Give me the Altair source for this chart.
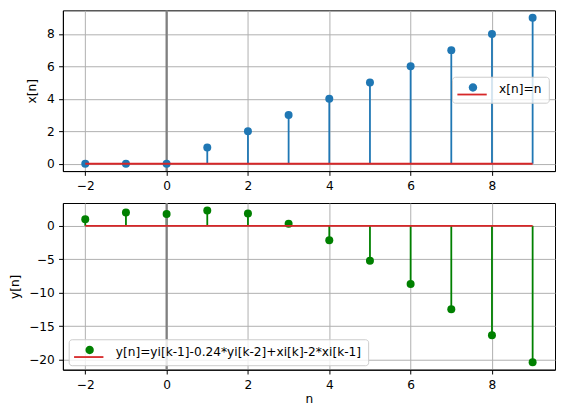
import altair as alt
import pandas as pd

# ---- data ----
n_vals = [-2, -1, 0, 1, 2, 3, 4, 5, 6, 7, 8, 9]
x_vals = [0, 0, 0, 1, 2, 3, 4, 5, 6, 7, 8, 9]
y_vals = [1.0, 2.0, 1.76, 2.28, 1.86, 0.31, -2.14, -5.21, -8.70, -12.45, -16.36, -20.37]
x_ticks = [-2, 0, 2, 4, 6, 8]
top_y_ticks = [0, 2, 4, 6, 8]
bot_y_ticks = [-20, -15, -10, -5, 0]
top_label = "x[n]=n"
bot_label = "y[n]=yi[k-1]-0.24*yi[k-2]+xi[k]-2*xi[k-1]"
base_name = "baseline"

FONT = "DejaVu Sans"
FS = 12.2
C_TOP = "#1f77b4"
C_BOT = "#008000"
C_BASE = "#d62728"

# legend glyph paths (unit box = 12px)
CIRCLE_PATH = "M-0.55,-0.3 A0.7,0.7 0 1,0 0.85,-0.3 A0.7,0.7 0 1,0 -0.55,-0.3 Z"
LINE_PATH = "M-2.45,0.72 L2.45,0.72"

top_df = pd.DataFrame({"n": n_vals, "v": x_vals, "zero": 0, "lab": top_label})
bot_df = pd.DataFrame({"n": n_vals, "v": y_vals, "zero": 0, "lab": bot_label})
top_base = pd.DataFrame({"n0": [min(n_vals)], "n1": [max(n_vals)], "zero": [0], "lab2": [base_name + " x"]})
bot_base = pd.DataFrame({"n0": [min(n_vals)], "n1": [max(n_vals)], "zero": [0], "lab2": [base_name + " y"]})
vline_df = pd.DataFrame({"n": [0]})

x_scale = alt.Scale(domain=[-2.55, 9.55], nice=False, zero=False)
W = 493


def legend_fill(lx, ly):
    return alt.Legend(
        title=None, orient="none", legendX=lx, legendY=ly,
        symbolType=CIRCLE_PATH, symbolSize=144, symbolStrokeWidth=0,
        symbolOffset=7.5, labelOffset=21, labelLimit=500,
        labelFont=FONT, labelFontSize=FS, labelColor="black",
        padding=6.5, fillColor="rgba(255,255,255,0.8)", strokeColor="#cccccc",
        cornerRadius=3,
    )


def legend_stroke(lx, ly):
    return alt.Legend(
        title=None, orient="none", legendX=lx, legendY=ly,
        symbolType=LINE_PATH, symbolSize=144, symbolStrokeWidth=1.8,
        symbolFillColor="transparent",
        symbolOffset=6.6, labelOffset=0, labelExpr="''",
        labelFont=FONT, labelFontSize=FS, labelOpacity=0,
        padding=6.5,
    )


def panel(df, base_df, color, y_dom, y_ticks, y_title, y_tp, show_x_title, lab, lx, ly, h):
    ys = alt.Scale(domain=y_dom, nice=False, zero=False)
    xax = alt.Axis(values=x_ticks, title="n" if show_x_title else None, titlePadding=2)
    yax = alt.Axis(values=y_ticks, title=y_title, titlePadding=y_tp)
    stems = alt.Chart(df).mark_rule(color=color, strokeWidth=1.8).encode(
        x=alt.X("n:Q", scale=x_scale, axis=xax),
        y=alt.Y("zero:Q", scale=ys, axis=yax),
        y2="v:Q",
    )
    vline = alt.Chart(vline_df).mark_rule(color="#808080", strokeWidth=2.2).encode(
        x=alt.X("n:Q", scale=x_scale),
    )
    pts = alt.Chart(df).mark_circle(size=64, opacity=1).encode(
        x=alt.X("n:Q", scale=x_scale),
        y=alt.Y("v:Q", scale=ys),
        fill=alt.Fill("lab:N", scale=alt.Scale(domain=[lab], range=[color]),
                      legend=legend_fill(lx, ly)),
    )
    base = alt.Chart(base_df).mark_rule(strokeWidth=1.8).encode(
        x=alt.X("n0:Q", scale=x_scale),
        x2="n1:Q",
        y=alt.Y("zero:Q", scale=ys),
        stroke=alt.Stroke("lab2:N", scale=alt.Scale(range=[C_BASE]),
                          legend=legend_stroke(lx, ly)),
    )
    return alt.layer(stems, vline, pts, base).properties(width=W, height=h)


top = panel(top_df, top_base, C_TOP, [-0.45, 9.45], top_y_ticks, "x[n]", 8, False,
            top_label, 389.8, 66.5, 161)
bot = panel(bot_df, bot_base, C_BOT, [-21.5, 3.41], bot_y_ticks, "y[n]", 7, True,
            bot_label, 5.8, 136.5, 167)

chart = (
    alt.vconcat(top, bot, spacing=32, bounds="flush")
    .resolve_scale(fill="independent", stroke="independent", x="independent", y="independent")
    .properties(padding=0)
    .configure(padding=0, background="white")
    .configure_view(stroke="black", strokeWidth=1)
    .configure_axis(
        domainColor="black", domainWidth=1, tickColor="black", tickWidth=1,
        tickSize=4.3, labelPadding=4.3, labelFont=FONT, labelFontSize=FS,
        labelColor="black", titleFont=FONT, titleFontSize=FS, titleFontWeight="normal",
        titleColor="black", grid=True, gridColor="#b0b0b0", gridWidth=1,
    )
)

chart.save("out.html", embed_options={"renderer": "svg", "actions": False})
